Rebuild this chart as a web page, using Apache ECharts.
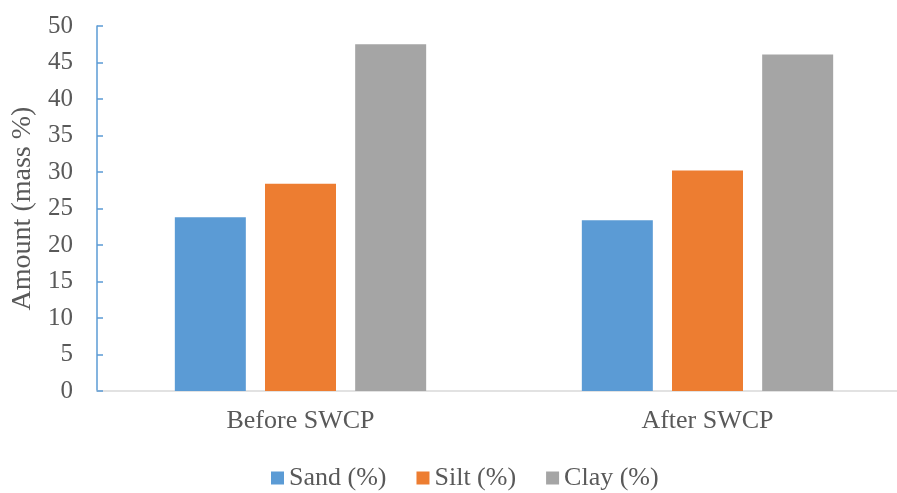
<!DOCTYPE html>
<html>
<head>
<meta charset="utf-8">
<script src="https://cdn.jsdelivr.net/npm/echarts@6/dist/echarts.min.js"></script>
<style>
html,body{margin:0;padding:0;background:#fff;}
#chart{width:897px;height:493px;}
</style>
</head>
<body>
<div id="chart"></div>
<script>
const categories = ['Before SWCP', 'After SWCP'];
const sand = [23.8, 23.4];
const silt = [28.4, 30.2];
const clay = [47.5, 46.1];
const seriesNames = ['Sand (%)', 'Silt (%)', 'Clay (%)'];
const yTicks = { min: 0, max: 50, interval: 5 };

const FONT = 'Liberation Serif';
const chart = echarts.init(document.getElementById('chart'), null, { renderer: 'canvas' });
const option = {
  backgroundColor: '#ffffff',
  animation: false,
  color: ['#5B9BD5', '#ED7D31', '#A5A5A5'],
  grid: { left: 97, width: 814, top: 26, height: 365, containLabel: false, outerBoundsMode: 'none' },
  legend: {
    data: seriesNames,
    top: 460,
    left: 266,
    itemWidth: 13,
    itemHeight: 13,
    itemGap: 30,
    icon: 'rect',
    textStyle: { fontFamily: FONT, fontSize: 26, color: '#595959' }
  },
  xAxis: {
    type: 'category',
    data: categories,
    axisLine: { show: true, lineStyle: { color: '#D9D9D9', width: 1.5 } },
    axisTick: { show: false },
    axisLabel: { fontFamily: FONT, fontSize: 26, color: '#595959', margin: 17 }
  },
  yAxis: {
    type: 'value',
    min: yTicks.min, max: yTicks.max, interval: yTicks.interval,
    name: 'Amount (mass %)',
    nameLocation: 'middle',
    nameGap: 60,
    nameTextStyle: { fontFamily: FONT, fontSize: 28, color: '#595959' },
    axisLine: { show: true, lineStyle: { color: '#5B9BD5', width: 1.5 } },
    axisTick: { show: true, inside: true, length: 6, lineStyle: { color: '#5B9BD5', width: 1.5 } },
    splitLine: { show: false },
    axisLabel: { fontFamily: FONT, fontSize: 25, color: '#595959', margin: 24 }
  },
  series: [
    { name: seriesNames[0], type: 'bar', data: sand, barWidth: 71, barGap: '27%' },
    { name: seriesNames[1], type: 'bar', data: silt, barWidth: 71, barGap: '27%' },
    { name: seriesNames[2], type: 'bar', data: clay, barWidth: 71, barGap: '27%' }
  ]
};
chart.setOption(option);
</script>
</body>
</html>
